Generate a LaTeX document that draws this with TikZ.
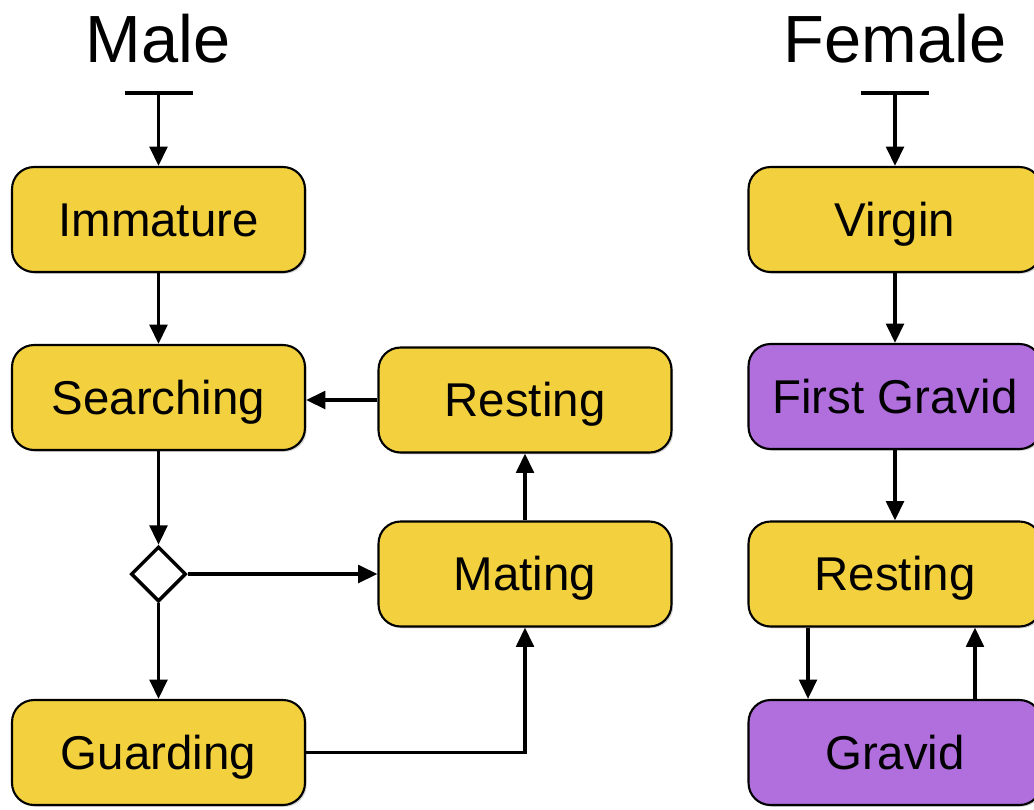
\documentclass[tikz,border=0pt]{standalone}
\usepackage{fontspec}
\setmainfont{Liberation Sans}
\usepackage{tikz}
\usepackage{xcolor}
\usetikzlibrary{arrows.meta}
\usetikzlibrary{shapes.geometric}
\usetikzlibrary{shadows}

\definecolor{stateyellow}{HTML}{F3D13E}
\definecolor{statepurple}{HTML}{B06FDD}

\begin{document}
\begin{tikzpicture}[
    x=0.02cm, y=-0.02cm,
    state/.style={draw=black, line width=1.2pt, rounded corners=0.44cm,
        minimum width=5.86cm, minimum height=2.1cm, inner sep=0pt,
        text height=19.3pt, text depth=0pt, font=\fontsize{27}{30}\selectfont,
        drop shadow={shadow xshift=1pt, shadow yshift=-1pt, opacity=0.35}},
    yellow/.style={state, fill=stateyellow},
    purple/.style={state, fill=statepurple},
    choice/.style={draw=black, fill=white, line width=2pt, diamond,
        minimum width=1.1cm, minimum height=1.1cm, inner sep=0pt},
    title/.style={anchor=base, font=\fontsize{38}{42}\selectfont},
    flow/.style={-{Triangle[length=11pt,width=10pt]}, line width=2pt}
]
\clip (0,0) rectangle (1034,809);
\useasboundingbox (0,0) rectangle (1034,809);

% male
\node[title] at (158,62) (maleT) {Male};
\coordinate (mStart) at (158.5,93);
\draw[line width=2pt] (125,93) -- (193,93);
\node[yellow] at (158.5,219.5) (mImm)  {Immature};
\node[yellow] at (158.5,397.5) (mSrch) {Searching};
\node[yellow] at (525,400)     (mRest) {Resting};
\node[choice] at (158.5,574)   (mChc)  {};
\node[yellow] at (525,574)     (mMate) {Mating};
\node[yellow] at (158.5,752.5) (mGrd)  {Guarding};

\draw[flow] (mStart)--(mImm);
\draw[flow] (mImm)--(mSrch);
\draw[flow] (mRest.west)--(mRest.west -| mSrch.east);
\draw[flow] (mSrch)--(mChc);
\draw[flow] (mChc)--(mMate);
\draw[flow] (mChc)--(mGrd);
\draw[flow] (mGrd.east) -| (mMate.south);
\draw[flow] (mMate)--(mRest);

% female
\node[title] at (895,62) (femT) {Female};
\coordinate (fStart) at (895,93);
\draw[line width=2pt] (861,93) -- (929,93);
\node[yellow] at (895,219.5) (fVirg)  {Virgin};
\node[purple] at (895,396.5) (fFirst) {First Gravid};
\node[yellow] at (895,574)   (fRest)  {Resting};
\node[purple] at (895,752.5) (fGrav)  {Gravid};

\draw[flow] (fStart)--(fVirg);
\draw[flow] (fVirg)--(fFirst);
\draw[flow] (fFirst)--(fRest);
\draw[flow] ([xshift=-1.74cm]fRest.south)--([xshift=-1.74cm]fGrav.north);
\draw[flow] ([xshift=1.6cm]fGrav.north)--([xshift=1.6cm]fRest.south);
\end{tikzpicture}
\end{document}
